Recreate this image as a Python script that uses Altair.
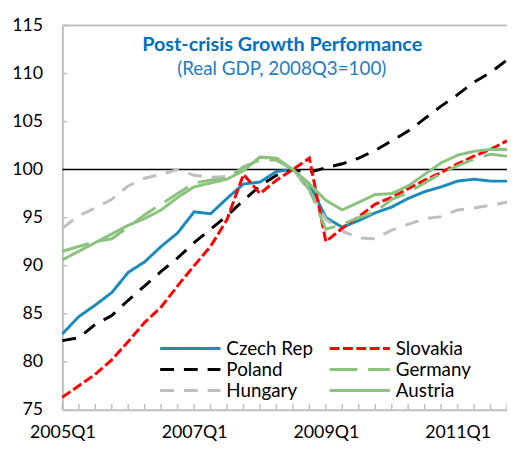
import altair as alt
import pandas as pd

# ---------------- data ----------------
quarters = [f"{y}Q{q}" for y in range(2005, 2012) for q in range(1, 5)]

czech = [82.9, 84.7, 85.9, 87.2, 89.3, 90.4, 92.0, 93.4, 95.6, 95.4, 97.0, 98.5, 98.7, 99.8,
         100.0, 98.5, 95.0, 94.0, 94.7, 95.5, 96.1, 97.0, 97.7, 98.2, 98.8, 99.0, 98.8, 98.8]
poland = [82.2, 82.5, 83.9, 84.8, 86.4, 87.9, 89.4, 90.8, 92.4, 93.8, 95.2, 96.8, 98.3, 99.4,
          100.0, 99.7, 100.2, 100.6, 101.2, 102.0, 103.0, 104.0, 105.3, 106.6, 107.8, 109.1, 110.1, 111.4]
hungary = [93.9, 95.2, 96.0, 96.9, 98.3, 99.1, 99.5, 100.0, 99.4, 99.2, 99.3, 100.0, 101.3, 101.0,
           100.0, 97.8, 94.8, 93.6, 92.9, 92.8, 93.7, 94.3, 94.9, 95.1, 95.8, 96.0, 96.3, 96.6]
slovakia = [76.3, 77.5, 78.7, 80.2, 82.1, 84.1, 85.7, 87.9, 90.0, 92.0, 94.8, 99.5, 97.5, 98.9,
            100.0, 101.2, 92.5, 93.9, 95.1, 96.4, 97.1, 98.0, 98.9, 99.7, 100.6, 101.4, 102.1, 103.0]
germany = [91.5, 92.0, 92.5, 92.8, 94.0, 95.3, 96.4, 97.5, 98.6, 98.9, 99.1, 100.3, 101.0, 101.0,
           100.0, 97.9, 93.8, 94.3, 95.0, 95.6, 96.9, 97.6, 98.6, 99.6, 100.4, 101.1, 101.6, 101.4]
austria = [90.6, 91.5, 92.4, 93.3, 94.2, 94.9, 95.8, 97.1, 98.2, 98.6, 99.0, 99.9, 101.3, 101.2,
           100.0, 98.5, 96.8, 95.8, 96.6, 97.4, 97.5, 98.3, 99.5, 100.7, 101.5, 101.9, 102.1, 102.1]

series_names = ["Czech Rep", "Poland", "Hungary", "Slovakia", "Germany", "Austria"]
series_values = [czech, poland, hungary, slovakia, germany, austria]

x_labels = ["2005Q1", "2007Q1", "2009Q1", "2011Q1"]
y_ticks = [75, 80, 85, 90, 95, 100, 105, 110, 115]
ref_level = 100
title_text = "Post-crisis Growth Performance"
subtitle_text = "(Real GDP, 2008Q3=100)"

# ---------------- styles ----------------
colors = {"Czech Rep": "#1A8BBA", "Slovakia": "#FF0000", "Poland": "#000000",
          "Germany": "#8BC27E", "Hungary": "#BFBFBF", "Austria": "#8BC27E"}
dashes = {"Czech Rep": [1, 0], "Slovakia": [10, 3.5], "Poland": [14, 10],
          "Germany": [28, 11], "Hungary": [14, 10], "Austria": [1, 0]}
FONT = "Lato"
GRAY = "#BFBFBF"
W, H = 450, 389

# position of each quarter along the category axis
q_index = {q: i for i, q in enumerate(quarters)}

rows = []
for name, vals in zip(series_names, series_values):
    for q, v in zip(quarters, vals):
        rows.append({"quarter": q, "idx": q_index[q], "series": name, "value": v})
df = pd.DataFrame(rows)

label_expr = "[" + ",".join(f"'{q}'" for q in quarters) + "][datum.value]"

xscale = alt.Scale(domain=[0, len(quarters) - 1], nice=False, zero=False)
yscale = alt.Scale(domain=[75, 115], nice=False, zero=False)
color_scale = alt.Scale(domain=series_names, range=[colors[n] for n in series_names])
dash_scale = alt.Scale(domain=series_names, range=[dashes[n] for n in series_names])

x_axis = alt.Axis(values=[q_index[q] for q in x_labels], labelExpr=label_expr,
                  title=None, labelAngle=0, ticks=False, grid=False,
                  domainColor=GRAY, domainWidth=2, labelPadding=14,
                  labelBaseline="top", labelOverlap=False, labelFlush=False, labelBound=False,
                  labelFontSize=18, labelFont=FONT, labelColor="black")
y_axis = alt.Axis(values=y_ticks, title=None, ticks=False, grid=False,
                  domainColor=GRAY, domainWidth=2, labelPadding=20,
                  labelOverlap=False, labelFlush=False, labelBound=False,
                  labelFontSize=18, labelFont=FONT, labelColor="black")

lines = alt.Chart(df).mark_line(strokeWidth=3).encode(
    x=alt.X("idx:Q", scale=xscale, axis=x_axis),
    y=alt.Y("value:Q", scale=yscale, axis=y_axis),
    color=alt.Color("series:N", scale=color_scale, legend=None),
    strokeDash=alt.StrokeDash("series:N", scale=dash_scale, legend=None),
    order="idx:Q",
)

xticks = alt.Chart(pd.DataFrame({"idx": [q_index[q] for q in quarters]})).mark_rule(
    color=GRAY, strokeWidth=1.5).encode(
    x=alt.X("idx:Q", scale=xscale, axis=x_axis), y=alt.value(H), y2=alt.value(H - 6))

yticks = alt.Chart(pd.DataFrame({"value": y_ticks})).mark_rule(
    color=GRAY, strokeWidth=1.5).encode(
    y=alt.Y("value:Q", scale=yscale, axis=y_axis), x=alt.value(0), x2=alt.value(5))

ref = alt.Chart(pd.DataFrame({"value": [ref_level]})).mark_rule(
    color="black", strokeWidth=1.5).encode(y=alt.Y("value:Q", scale=yscale, axis=y_axis))

top_border = alt.Chart(pd.DataFrame({"a": [0]})).mark_rule(
    color=GRAY, strokeWidth=2).encode(x=alt.value(0), x2=alt.value(W), y=alt.value(0))

title = alt.Chart(pd.DataFrame({"t": [title_text]})).mark_text(
    font=FONT, fontSize=20, fontWeight="bold", color="#0070C0",
    align="center", baseline="alphabetic").encode(
    x=alt.value(222.5), y=alt.value(26), text="t:N")

subtitle = alt.Chart(pd.DataFrame({"t": [subtitle_text]})).mark_text(
    font=FONT, fontSize=19, color="#1C7CC8",
    align="center", baseline="alphabetic").encode(
    x=alt.value(222), y=alt.value(50), text="t:N")

# ---------------- legend (two columns, three rows) ----------------
LEG_X = [99, 270.5]
LEG_Y0, LEG_DY = 327, 21.2
SYM_LEN, TXT_OFF = 61, 67
legend_layers = []
for k, name in enumerate(series_names):
    col, row = divmod(k, 3)
    x0, y0 = LEG_X[col], LEG_Y0 + row * LEG_DY
    ldf = pd.DataFrame({"series": [name]})
    legend_layers.append(alt.Chart(ldf).mark_rule(strokeWidth=3).encode(
        x=alt.value(x0), x2=alt.value(x0 + SYM_LEN), y=alt.value(y0),
        color=alt.Color("series:N", scale=color_scale, legend=None),
        strokeDash=alt.StrokeDash("series:N", scale=dash_scale, legend=None)))
    legend_layers.append(alt.Chart(ldf).mark_text(
        font=FONT, fontSize=19, color="black", align="left", baseline="middle").encode(
        x=alt.value(x0 + TXT_OFF), y=alt.value(y0 + 1), text="series:N"))

chart = alt.layer(xticks, yticks, ref, lines, title, subtitle, top_border, *legend_layers).properties(
    width=W, height=H,
    autosize=alt.AutoSizeParams(type="none"),
    padding={"left": 55, "top": 15, "right": 0, "bottom": 36},
).configure_view(stroke=None)

chart.save("out.html", embed_options={"renderer": "svg", "actions": False})
